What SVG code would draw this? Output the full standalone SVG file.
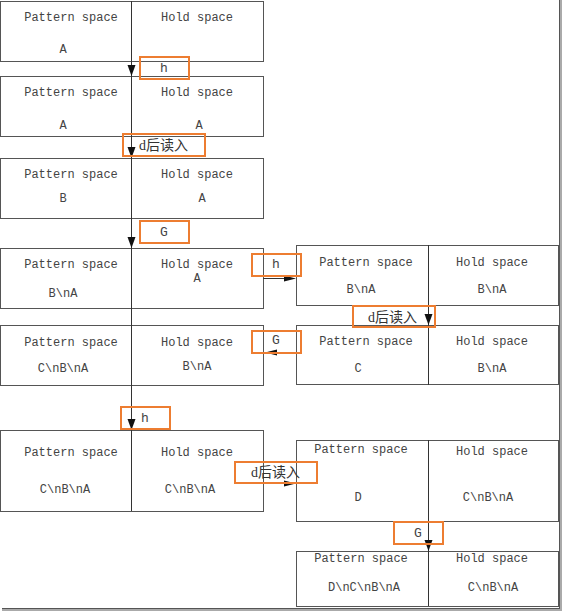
<svg xmlns="http://www.w3.org/2000/svg" width="563" height="612" viewBox="0 0 563 612">
<style>
.box{fill:#fff;stroke:#555;stroke-width:1}
.ln{stroke:#333;stroke-width:1;fill:none}
.ah{fill:#111;stroke:none}
.lab{fill:none;stroke:#ED7D31;stroke-width:2}
.t{font-family:"Liberation Mono","Noto Sans CJK SC",monospace;font-size:12px;fill:#444;text-anchor:middle}
.c{font-family:"Liberation Serif","Noto Sans CJK SC",serif;font-size:14px;fill:#333}
.s{font-family:"Liberation Mono",monospace;font-size:13px;fill:#444;text-anchor:middle}
</style>
<rect width="563" height="612" fill="#fff"/>
<g id="frame">
<line x1="559.5" y1="0" x2="559.5" y2="608" stroke="#555" stroke-width="1"/>
<line x1="561" y1="0" x2="561" y2="610" stroke="#aaa" stroke-width="2"/>
<line x1="2" y1="608.5" x2="560" y2="608.5" stroke="#555" stroke-width="1"/>
<line x1="2" y1="610" x2="562" y2="610" stroke="#aaa" stroke-width="2"/>
</g>
<g id="n1"><rect class="box" x="0.5" y="1.5" width="263" height="60"/>
<text class="t" x="71" y="21">Pattern space</text><text class="t" x="197" y="21">Hold space</text><text class="t" x="63" y="53">A</text></g>
<g id="n2"><rect class="box" x="0.5" y="76.5" width="263" height="60"/>
<text class="t" x="71" y="96">Pattern space</text><text class="t" x="197" y="96">Hold space</text><text class="t" x="63" y="129">A</text><text class="t" x="199" y="129">A</text></g>
<g id="n3"><rect class="box" x="0.5" y="158.5" width="263" height="60"/>
<text class="t" x="71" y="178">Pattern space</text><text class="t" x="197" y="178">Hold space</text><text class="t" x="63" y="202">B</text><text class="t" x="202" y="202">A</text></g>
<g id="n4"><rect class="box" x="0.5" y="248.5" width="263" height="60"/>
<text class="t" x="71" y="268">Pattern space</text><text class="t" x="197" y="268">Hold space</text><text class="t" x="63" y="297">B\nA</text><text class="t" x="197" y="282">A</text></g>
<g id="n5"><rect class="box" x="0.5" y="325.5" width="263" height="60"/>
<text class="t" x="71" y="346">Pattern space</text><text class="t" x="197" y="346">Hold space</text><text class="t" x="63" y="372">C\nB\nA</text><text class="t" x="197" y="370">B\nA</text></g>
<g id="n6"><rect class="box" x="0.5" y="430.5" width="263" height="81"/>
<text class="t" x="71" y="456">Pattern space</text><text class="t" x="197" y="456">Hold space</text><text class="t" x="65" y="493">C\nB\nA</text><text class="t" x="190" y="493">C\nB\nA</text></g>
<g id="r1"><rect class="box" x="296.5" y="245.5" width="262" height="60"/>
<text class="t" x="366" y="266">Pattern space</text><text class="t" x="492" y="266">Hold space</text><text class="t" x="361" y="293">B\nA</text><text class="t" x="492" y="293">B\nA</text></g>
<g id="r2"><rect class="box" x="296.5" y="325.5" width="262" height="59"/>
<text class="t" x="366" y="345">Pattern space</text><text class="t" x="492" y="345">Hold space</text><text class="t" x="358" y="372">C</text><text class="t" x="492" y="372">B\nA</text></g>
<g id="r3"><rect class="box" x="296.5" y="440.5" width="262" height="81"/>
<text class="t" x="361" y="453">Pattern space</text><text class="t" x="492" y="455">Hold space</text><text class="t" x="358" y="501">D</text><text class="t" x="488" y="501">C\nB\nA</text></g>
<g id="r4"><rect class="box" x="296.5" y="551.5" width="262" height="55"/>
<text class="t" x="361" y="562">Pattern space</text><text class="t" x="492" y="562">Hold space</text><text class="t" x="364" y="591">D\nC\nB\nA</text><text class="t" x="493" y="591">C\nB\nA</text></g>
<g id="connectors">
<line class="ln" x1="131.5" y1="1" x2="131.5" y2="511"/>
<line class="ln" x1="428.5" y1="245" x2="428.5" y2="385"/>
<line class="ln" x1="428.5" y1="440" x2="428.5" y2="606"/>
<line class="ln" x1="263" y1="278.5" x2="294" y2="278.5"/>
<line class="ln" x1="266" y1="352.5" x2="296" y2="352.5"/>
<line class="ln" x1="263" y1="483.5" x2="294" y2="483.5"/>
<polygon class="ah" points="127.5,65 135.5,65 131.5,76"/>
<polygon class="ah" points="127.5,147 135.5,147 131.5,158"/>
<polygon class="ah" points="127.5,237 135.5,237 131.5,248"/>
<polygon class="ah" points="127.5,419 135.5,419 131.5,430"/>
<polygon class="ah" points="424.5,314 432.5,314 428.5,325"/>
<polygon class="ah" points="424.5,540 432.5,540 428.5,551"/>
<polygon class="ah" points="284,275.5 284,281.5 296,278.5"/>
<polygon class="ah" points="277,349.5 277,355.5 265,352.5"/>
<polygon class="ah" points="284,480.5 284,486.5 296,483.5"/>
</g>
<g id="labels">
<rect class="lab" x="140" y="57" width="49" height="22"/><text class="s" x="164" y="72">h</text>
<rect class="lab" x="123" y="134" width="82" height="22"/><text class="c" x="139" y="150">d后读入</text>
<rect class="lab" x="140" y="221" width="49" height="22"/><text class="s" x="164" y="236">G</text>
<rect class="lab" x="252" y="254" width="49" height="22"/><text class="s" x="276" y="268">h</text>
<rect class="lab" x="353" y="306" width="82" height="21"/><text class="c" x="368" y="322">d后读入</text>
<rect class="lab" x="252" y="331" width="49" height="22"/><text class="s" x="276" y="344">G</text>
<rect class="lab" x="121" y="407" width="49" height="22"/><text class="s" x="145" y="422">h</text>
<rect class="lab" x="235" y="462" width="82" height="21"/><text class="c" x="251" y="477">d后读入</text>
<rect class="lab" x="394" y="522" width="49" height="22"/><text class="s" x="418" y="537">G</text>
</g>
</svg>
